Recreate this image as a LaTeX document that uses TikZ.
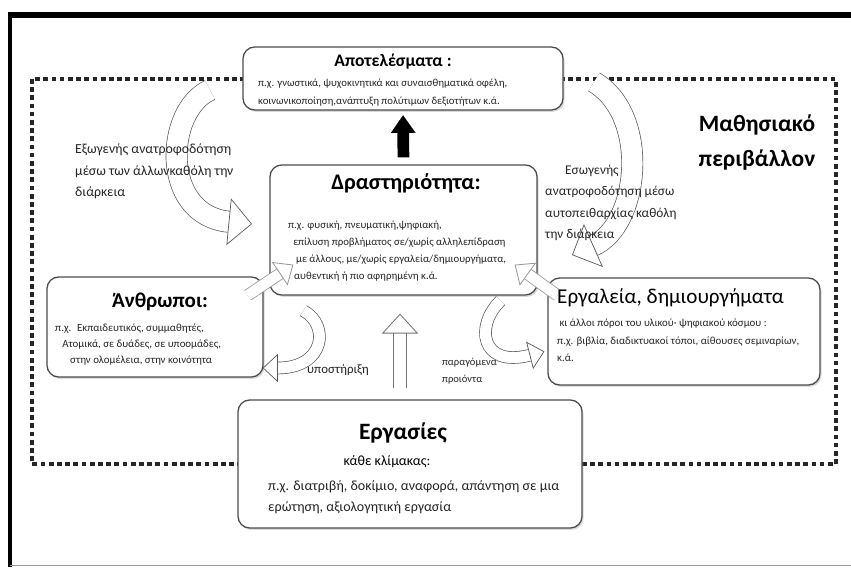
\documentclass[tikz,border=0pt]{standalone}
\usepackage{fontspec}
\setmainfont{Carlito}
\usetikzlibrary{arrows.meta, positioning, calc, shadows}

\tikzset{
  box/.style={draw=black!70, line width=1.1pt, rounded corners=10pt, fill=white,
    drop shadow={shadow xshift=1.3pt, shadow yshift=-1.6pt, opacity=0.3}},
  small/.style={text=black!85, align=left, inner sep=0pt},
  envline/.style={line width=2.8pt, black!85, dash pattern=on 4pt off 3pt},
  blockarrow/.style={draw=black!55, line width=0.7pt, double=white, double distance=10.5pt,
    -{Triangle[width=31pt, length=17pt, fill=white, line width=0.7pt]}},
  grayarrow/.style={draw=black!40, line width=0.7pt, double=white, double distance=9pt,
    -{Triangle[width=24pt, length=14pt, fill=white, line width=0.7pt]}},
  bigbend/.style={draw=black!65, line width=0.6pt, double=white, double distance=17.5pt,
    -{Triangle[width=40pt, length=20pt, fill=white, line width=0.6pt]}},
  smallbend/.style={draw=black!65, line width=0.6pt, double=white, double distance=9.5pt,
    -{Triangle[width=24pt, length=13pt, fill=white, line width=0.6pt]}},
  blackarrow/.style={line width=10pt, black, -{Triangle[width=21pt, length=15pt, line width=0.1pt]}}
}

\begin{document}
\begin{tikzpicture}[x=0.03cm, y=-0.03cm]
\useasboundingbox (0,0) rectangle (851,567);

% outer frame
\draw[line width=5pt] (8,15) -- (851,15);
\draw[line width=3.5pt] (10,12.5) -- (10,567);
\draw[black!40, line width=0.8pt] (10,565.5) -- (851,565.5);

% learning environment
\draw[envline] (32,79) rectangle (836,464);
\node[font=\bfseries\fontsize{20}{30}\selectfont, align=center] (envtitle) at (757,142.5) {Μαθησιακό\\περιβάλλον};

% feedback loops
\draw[bigbend] (210,90) .. controls (165,110) and (160,215) .. (252,224);
\draw[bigbend] (594,82) .. controls (650,115) and (640,225) .. (572,255);

% boxes
\node[box, minimum width=9.6cm, minimum height=1.89cm] (res) at (403,78.5) {};
\node[box, minimum width=8.01cm, minimum height=3.9cm] (act) at (403.5,230) {};
\node[box, minimum width=6.48cm, minimum height=3cm] (ppl) at (155,327) {};
\node[box, minimum width=8.16cm, minimum height=3.21cm] (tool) at (684,331.5) {};
\node[box, minimum width=10.32cm, minimum height=3.84cm] (task) at (410,464) {};

% arrows between boxes
\draw[blackarrow, shorten <=6pt, shorten >=4pt] (act.north) -- (res.south);
\draw[blockarrow] ($(task.north)+(-10,-11)$) -- ($(act.south)+(-3.5,18)$);
\draw[grayarrow] ($(ppl.north east)+(-16,19)$) -- ($(act.south west)+(24,-31)$);
\draw[grayarrow] ($(tool.north west)+(10,18)$) -- ($(act.south east)+(-23,-31)$);
\draw[smallbend] ($(act.south west)+(34,15)$) .. controls (330,325) and (325,368) .. ($(ppl.east)+(-1,41)$);
\draw[smallbend] ($(act.south east)+(-37,5)$) .. controls (475,325) and (480,368) .. ($(tool.west)+(-3,20)$);

% texts
\node[font=\bfseries\fontsize{15}{18}\selectfont] (restit) at (393,62) {Αποτελέσματα :};
\node[small, font=\fontsize{9.2}{16}\selectfont, anchor=west] (restxt) at (258,92.5)
  {π.χ. γνωστικά, ψυχοκινητικά και συναισθηματικά οφέλη,\\κοινωνικοποίηση,ανάπτυξη πολύτιμων δεξιοτήτων κ.ά.};

\node[font=\bfseries\fontsize{19}{22}\selectfont] (acttit) at (406,183) {Δραστηριότητα:};
\node[small, font=\fontsize{9.2}{14.4}\selectfont, anchor=west] (acttxt) at (288,251)
  {π.χ. φυσική, πνευματική,ψηφιακή,\\\hspace*{4.3pt}επίλυση προβλήματος σε/χωρίς αλληλεπίδραση\\
   \hspace*{6.8pt}με άλλους, με/χωρίς εργαλεία/δημιουργήματα,\\\hspace*{5pt}αυθεντική ή πιο αφηρημένη κ.ά.};

\node[font=\bfseries\fontsize{18}{22}\selectfont] (ppltit) at (160,302) {Άνθρωποι:};
\node[small, font=\fontsize{9.3}{13.6}\selectfont, anchor=west] (ppltxt) at (55,344.7)
  {π.χ.~ Εκπαιδευτικός, συμμαθητές,\\\hspace*{6pt}Ατομικά, σε δυάδες, σε υποομάδες,\\\hspace*{12.8pt}στην ολομέλεια, στην κοινότητα};

\node[font=\fontsize{18}{22}\selectfont, anchor=west, inner sep=0pt] (tooltit) at (557,298) {Εργαλεία, δημιουργήματα};
\node[small, font=\fontsize{9.3}{14.9}\selectfont, anchor=west] (tooltxt) at (557,340.5)
  {\hspace*{2pt}κι άλλοι πόροι του υλικού· ψηφιακού κόσμου :\\π.χ. βιβλία, διαδικτυακοί τόποι, αίθουσες σεμιναρίων,\\κ.ά.};

\node[font=\bfseries\fontsize{20}{24}\selectfont] (tasktit) at (403,433) {Εργασίες};
\node[font=\fontsize{12}{14}\selectfont] (taskscale) at (387,462) {κάθε κλίμακας:};
\node[small, font=\fontsize{12}{17.9}\selectfont, anchor=west] (tasktxt) at (268,497.5)
  {π.χ. διατριβή, δοκίμιο, αναφορά, απάντηση σε μια\\ερώτηση, αξιολογητική εργασία};

\node[small, font=\fontsize{11.8}{18.3}\selectfont, anchor=west] (extfb) at (75,171.3)
  {Εξωγενής ανατροφοδότηση\\μέσω των άλλωνκαθόλη την\\διάρκεια};
\node[small, font=\fontsize{11.4}{18.4}\selectfont, anchor=west] (intfb) at (545,202.8)
  {\hspace*{17pt}Εσωγενής\\ανατροφοδότηση μέσω\\αυτοπειθαρχίας καθόλη\\την διάρκεια};
\node[small, font=\fontsize{11}{13}\selectfont, anchor=west] (support) at (307,370) {υποστήριξη};
\node[small, font=\fontsize{9}{15}\selectfont, anchor=west] (products) at (442,371) {παραγόμενα\\προιόντα};
\end{tikzpicture}
\end{document}
